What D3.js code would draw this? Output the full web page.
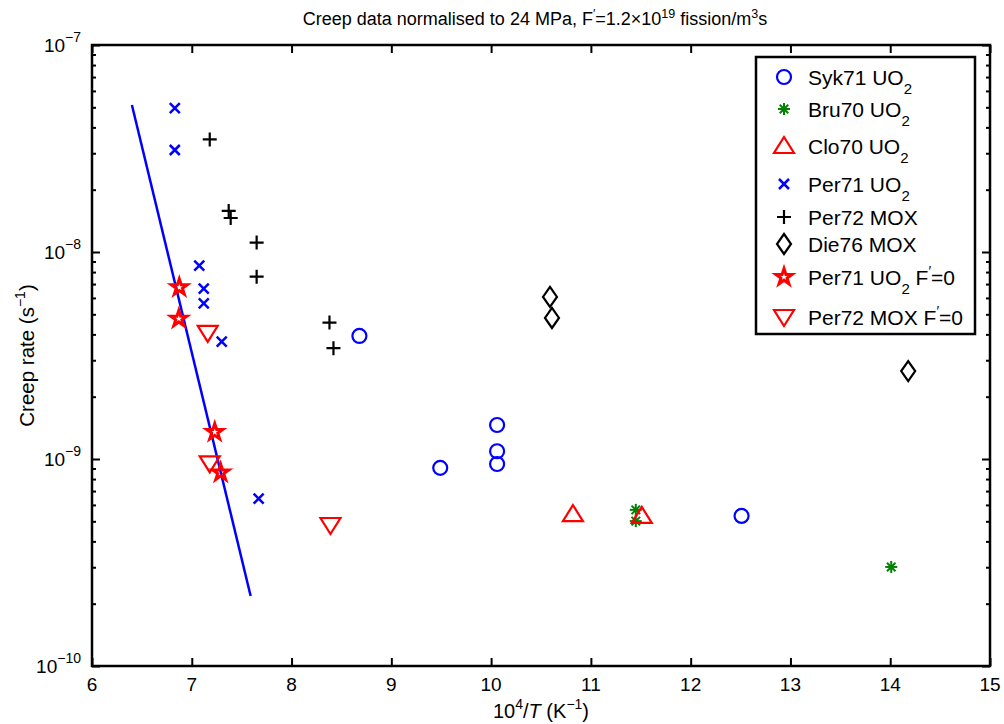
<!DOCTYPE html>
<html>
<head>
    <meta charset="UTF-8">
    <title>Creep data</title>
    <script src="https://cdn.jsdelivr.net/npm/d3@7"></script>
    <style>
        body { margin: 0; background: #fff; }
        text { font-family: "Liberation Sans", Arial, Helvetica, sans-serif; fill: #000; }
    </style>
</head>
<body>
<script>
    // data
    var sykX = [8.68, 9.49, 10.06, 10.06, 10.06, 12.51]
    var sykY = [3.93e-9, 9.06e-10, 1.46e-9, 1.09e-9, 9.46e-10, 5.31e-10]

    var bruX = [11.45, 11.45, 14.01]
    var bruY = [5.68e-10, 5.01e-10, 3.01e-10]

    var cloX = [10.82, 11.51]
    var cloY = [5.42e-10, 5.31e-10]

    var per71X = [6.83, 6.83, 7.075, 7.12, 7.12, 7.30, 7.67]
    var per71Y = [4.96e-8, 3.11e-8, 8.59e-9, 6.65e-9, 5.65e-9, 3.69e-9, 6.43e-10]

    var per72X = [7.18, 7.37, 7.39, 7.65, 7.65, 8.38, 8.42]
    var per72Y = [3.50e-8, 1.58e-8, 1.46e-8, 1.11e-8, 7.60e-9, 4.56e-9, 3.43e-9]

    var dieX = [10.59, 10.61, 14.18]
    var dieY = [6.07e-9, 4.80e-9, 2.66e-9]

    var per71F0X = [6.875, 6.87, 7.23, 7.29]
    var per71F0Y = [6.75e-9, 4.76e-9, 1.35e-9, 8.59e-10]

    var per72F0X = [7.16, 7.18, 8.39]
    var per72F0Y = [4.07e-9, 9.52e-10, 4.80e-10]

    var fitX = [6.40, 7.59]
    var fitY = [5.13e-8, 2.18e-10]

    var xTicks = [6, 7, 8, 9, 10, 11, 12, 13, 14, 15]
    var yExps = [-10, -9, -8, -7]

    var W = 1004, H = 724
    var pL = 92, pR = 990, pT = 45, pB = 666

    var svg = d3.select('body').append('svg')
        .attr('width', W)
        .attr('height', H)

    var x = d3.scaleLinear().domain([6, 15]).range([pL, pR])
    var y = d3.scaleLog().domain([1e-10, 1e-7]).range([pB, pT])

    var majors = yExps.map(function(e){ return Math.pow(10, e) })
    var minors = []
    for (var ex = -10; ex < -7; ex++) {
        for (var m = 2; m < 10; m++) minors.push(m * Math.pow(10, ex))
    }

    // axes (ticks pointing inward)
    function styleAxis(g) {
        g.select('.domain').remove()
        g.selectAll('line').attr('stroke', '#000').attr('stroke-width', 2)
    }
    svg.append('g').attr('transform', 'translate(0,' + pB + ')')
        .call(d3.axisBottom(x).tickValues(xTicks).tickSize(-8).tickFormat(''))
        .call(styleAxis)
    svg.append('g').attr('transform', 'translate(0,' + pT + ')')
        .call(d3.axisTop(x).tickValues(xTicks).tickSize(-8).tickFormat(''))
        .call(styleAxis)
    svg.append('g').attr('transform', 'translate(' + pL + ',0)')
        .call(d3.axisLeft(y).tickValues(majors).tickSize(-8).tickFormat(''))
        .call(styleAxis)
    svg.append('g').attr('transform', 'translate(' + pL + ',0)')
        .call(d3.axisLeft(y).tickValues(minors).tickSize(-4).tickFormat(''))
        .call(styleAxis)
    svg.append('g').attr('transform', 'translate(' + pR + ',0)')
        .call(d3.axisRight(y).tickValues(majors).tickSize(-8).tickFormat(''))
        .call(styleAxis)
    svg.append('g').attr('transform', 'translate(' + pR + ',0)')
        .call(d3.axisRight(y).tickValues(minors).tickSize(-4).tickFormat(''))
        .call(styleAxis)

    svg.append('rect')
        .attr('x', pL).attr('y', pT)
        .attr('width', pR - pL).attr('height', pB - pT)
        .attr('fill', 'none').attr('stroke', '#000').attr('stroke-width', 2.5)

    // tick labels
    svg.selectAll('.xlab').data(xTicks).enter().append('text')
        .attr('x', function(d){ return x(d) })
        .attr('y', pB + 25)
        .attr('text-anchor', 'middle')
        .attr('font-size', 19)
        .text(function(d){ return d })

    var ylab = svg.selectAll('.ylab').data(yExps).enter().append('text')
        .attr('x', pL - 11)
        .attr('y', function(d){ return y(Math.pow(10, d)) + 7 })
        .attr('text-anchor', 'end')
        .attr('font-size', 19)
    ylab.append('tspan').text('10')
    ylab.append('tspan').attr('dy', -10).attr('font-size', 14)
        .text(function(d){ return '\u2212' + (-d) })

    // axis titles
    var xt = svg.append('text')
        .attr('x', (pL + pR) / 2)
        .attr('y', 718)
        .attr('text-anchor', 'middle')
        .attr('font-size', 20)
    xt.append('tspan').text('10')
    xt.append('tspan').attr('dy', -9).attr('font-size', 14).text('4')
    xt.append('tspan').attr('dy', 9).text('/')
    xt.append('tspan').attr('font-style', 'italic').text('T')
    xt.append('tspan').text(' (K')
    xt.append('tspan').attr('dy', -9).attr('font-size', 14).text('\u22121')
    xt.append('tspan').attr('dy', 9).text(')')

    var yt = svg.append('text')
        .attr('transform', 'translate(34,' + ((pT + pB) / 2) + ') rotate(-90)')
        .attr('text-anchor', 'middle')
        .attr('font-size', 20.5)
    yt.append('tspan').text('Creep rate (s')
    yt.append('tspan').attr('dy', -9).attr('font-size', 14).text('\u22121')
    yt.append('tspan').attr('dy', 9).text(')')

    var tt = svg.append('text')
        .attr('x', 535)
        .attr('y', 25)
        .attr('text-anchor', 'middle')
        .attr('font-size', 18)
    tt.append('tspan').text('Creep data normalised to 24 MPa, F')
    tt.append('tspan').attr('dy', -7).attr('font-size', 12.5).text('\u2032')
    tt.append('tspan').attr('dy', 7).text('=1.2\u00d710')
    tt.append('tspan').attr('dy', -7).attr('font-size', 12.5).text('19')
    tt.append('tspan').attr('dy', 7).text(' fission/m')
    tt.append('tspan').attr('dy', -7).attr('font-size', 12.5).text('3')
    tt.append('tspan').attr('dy', 7).text('s')

    // fitted line
    svg.append('path')
        .datum(fitX.map(function(d, i){ return [d, fitY[i]] }))
        .attr('fill', 'none')
        .attr('stroke', '#0000ff')
        .attr('stroke-width', 2.5)
        .attr('d', d3.line().x(function(d){ return x(d[0]) }).y(function(d){ return y(d[1]) }))

    // marker shapes
    function circle(g) {
        g.append('circle').attr('r', 7).attr('fill', 'none').attr('stroke', '#0000ff').attr('stroke-width', 2.2)
    }
    function asterisk(g) {
        var r = 6
        ;[0, 45, 90, 135].forEach(function(a){
            var t = a * Math.PI / 180
            g.append('line')
                .attr('x1', -r * Math.cos(t)).attr('y1', -r * Math.sin(t))
                .attr('x2', r * Math.cos(t)).attr('y2', r * Math.sin(t))
                .attr('stroke', '#008000').attr('stroke-width', 2)
        })
    }
    function triUp(g) {
        g.append('path').attr('d', 'M0,-9 L10,7 L-10,7 Z')
            .attr('fill', 'none').attr('stroke', '#ff0000').attr('stroke-width', 2.2)
    }
    function triDown(g) {
        g.append('path').attr('d', 'M0,9 L10,-7 L-10,-7 Z')
            .attr('fill', 'none').attr('stroke', '#ff0000').attr('stroke-width', 2.2)
    }
    function cross(g) {
        g.append('path').attr('d', 'M-5,-5 L5,5 M-5,5 L5,-5')
            .attr('stroke', '#0000ff').attr('stroke-width', 2.5)
    }
    function plus(g) {
        g.append('path').attr('d', 'M-7,0 L7,0 M0,-7 L0,7')
            .attr('stroke', '#000').attr('stroke-width', 2.2)
    }
    function diamond(g) {
        g.append('path').attr('d', 'M0,-10 L7,0 L0,10 L-7,0 Z')
            .attr('fill', 'none').attr('stroke', '#000').attr('stroke-width', 2.2)
    }
    function star(g) {
        g.append('path').attr('d', d3.symbol(d3.symbolStar, 80)())
            .attr('fill', 'none').attr('stroke', '#ff0000').attr('stroke-width', 3)
    }

    var series = [
        { name: 'Syk71 UO', sub: '2', xs: sykX, ys: sykY, mark: circle, ly: 77 },
        { name: 'Bru70 UO', sub: '2', xs: bruX, ys: bruY, mark: asterisk, ly: 109 },
        { name: 'Clo70 UO', sub: '2', xs: cloX, ys: cloY, mark: triUp, ly: 146 },
        { name: 'Per71 UO', sub: '2', xs: per71X, ys: per71Y, mark: cross, ly: 184 },
        { name: 'Per72 MOX', sub: null, xs: per72X, ys: per72Y, mark: plus, ly: 217 },
        { name: 'Die76 MOX', sub: null, xs: dieX, ys: dieY, mark: diamond, ly: 244 },
        { name: 'Per71 UO', sub: '2', f0: true, xs: per71F0X, ys: per71F0Y, mark: star, ly: 277 },
        { name: 'Per72 MOX', sub: null, f0: true, xs: per72F0X, ys: per72F0Y, mark: triDown, ly: 317 }
    ]

    series.forEach(function(s){
        s.xs.forEach(function(v, i){
            var g = svg.append('g').attr('transform', 'translate(' + x(v) + ',' + y(s.ys[i]) + ')')
            s.mark(g)
        })
    })

    // legend
    svg.append('rect')
        .attr('x', 756).attr('y', 57)
        .attr('width', 219).attr('height', 277)
        .attr('fill', '#fff').attr('stroke', '#000').attr('stroke-width', 2.5)

    series.forEach(function(s){
        var g = svg.append('g').attr('transform', 'translate(784,' + s.ly + ')')
        s.mark(g)
        var t = svg.append('text')
            .attr('x', 808)
            .attr('y', s.ly + 8)
            .attr('font-size', 21)
        t.append('tspan').text(s.name)
        if (s.sub) {
            t.append('tspan').attr('dy', 9).attr('font-size', 15).text(s.sub)
        }
        if (s.f0) {
            t.append('tspan').attr('dy', s.sub ? -9 : 0).text(' F')
            t.append('tspan').attr('dy', -9).attr('font-size', 14).text('\u2032')
            t.append('tspan').attr('dy', 9).text('=0')
        }
    })
</script>
</body>
</html>
